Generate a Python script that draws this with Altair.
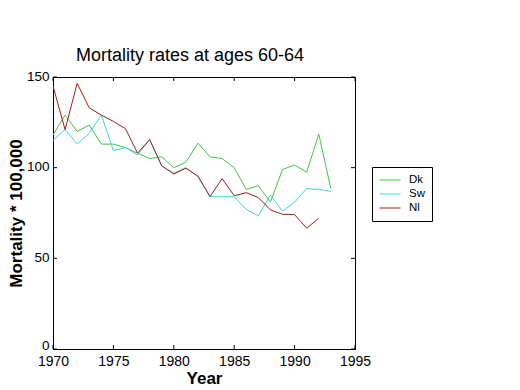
import altair as alt
import pandas as pd

years = list(range(1970, 1994))
dk = [118, 129, 120, 123.5, 113, 113, 111, 108, 105, 106, 100, 103, 113.5, 106, 105, 100, 88, 90, 81, 99, 101.5, 97.5, 118.5, 88.5]
sw = [115, 121, 113, 119, 129, 109.5, 111, 107, 115.5, 101, 97, 100, 95, 84, 84, 84, 77, 73.5, 85, 76, 81, 88.5, 88, 87]
nl = [145, 121, 146.5, 133, 129, 125.5, 121.5, 108, 115.5, 101, 96.5, 99.7, 95.4, 84, 94, 84.5, 86.2, 83.5, 76.7, 74.3, 74.1, 66.6, 72.1]
series = ["Dk", "Sw", "Nl"]
colors = ["#3cc83c", "#3cd8d8", "#a81818"]
x_ticks = [1970, 1975, 1980, 1985, 1990, 1995]
y_ticks = [0, 50, 100, 150]

rows = []
for name, vals in zip(series, [dk, sw, nl]):
    for yr, v in zip(years, vals):
        rows.append({"Year": yr, "Value": v, "Country": name})
df = pd.DataFrame(rows)

W, H = 302, 272
FONT = "Liberation Sans"

xs = alt.Scale(domain=[1970, 1995], nice=False, zero=False)
ys = alt.Scale(domain=[0, 150], nice=False)

lines = alt.Chart(df).mark_line(strokeWidth=1, clip=True).encode(
    x=alt.X("Year:Q", scale=xs, title="Year",
            axis=alt.Axis(values=x_ticks, format="d", ticks=False, grid=False,
                          labelFlush=False, labelOverlap=False,
                          labelFontSize=14, labelPadding=5, titleFontSize=17,
                          titleFontWeight="bold", titlePadding=2)),
    y=alt.Y("Value:Q", scale=ys, title="Mortality * 100,000",
            axis=alt.Axis(values=y_ticks, ticks=False, grid=False,
                          labelFlush=False, labelOverlap=False,
                          labelOffset={"condition": {"test": "datum.value == 0", "value": -4}, "value": -1},
                          labelFontSize=13.5, labelPadding=4, titleFontSize=17,
                          titleFontWeight="bold", titlePadding=1)),
    color=alt.Color("Country:N", sort=series,
                    scale=alt.Scale(domain=series, range=colors),
                    legend=alt.Legend(title=None, orient="none", legendX=319, legendY=90,
                                      symbolType="stroke", symbolSize=441,
                                      symbolStrokeWidth=1, clipHeight=12,
                                      labelFontSize=11.5, labelFont=FONT,
                                      strokeColor="black", padding=7,
                                      labelOffset=8)),
    order=alt.value(0),
)

xt = pd.DataFrame({"t": x_ticks})
yt = pd.DataFrame({"t": y_ticks})

bt = alt.Chart(xt).mark_rule(color="black").encode(
    x=alt.X("t:Q", scale=xs), y=alt.value(H), y2=alt.value(H - 4))
tt = alt.Chart(xt).mark_rule(color="black").encode(
    x=alt.X("t:Q", scale=xs), y=alt.value(0), y2=alt.value(4))
lt = alt.Chart(yt).mark_rule(color="black").encode(
    y=alt.Y("t:Q", scale=ys), x=alt.value(0), x2=alt.value(4))
rt = alt.Chart(yt).mark_rule(color="black").encode(
    y=alt.Y("t:Q", scale=ys), x=alt.value(W), x2=alt.value(W - 4))

chart = alt.layer(lines, bt, tt, lt, rt).properties(
    width=W, height=H,
    title=alt.TitleParams("Mortality rates at ages 60-64", fontSize=18, font=FONT,
                          fontWeight="normal", anchor="middle", dx=-14, offset=4,
                          color="black"),
    autosize=alt.AutoSizeParams(type="none"),
    padding={"left": 45, "top": 69, "right": 150, "bottom": 40},
).configure(font=FONT).configure_view(stroke="black", strokeWidth=1).configure_axis(
    domainColor="black", labelColor="black", titleColor="black", labelFont=FONT, titleFont=FONT
).configure_legend(labelColor="black")

chart.save("out.html", embed_options={"renderer": "svg", "actions": False})
